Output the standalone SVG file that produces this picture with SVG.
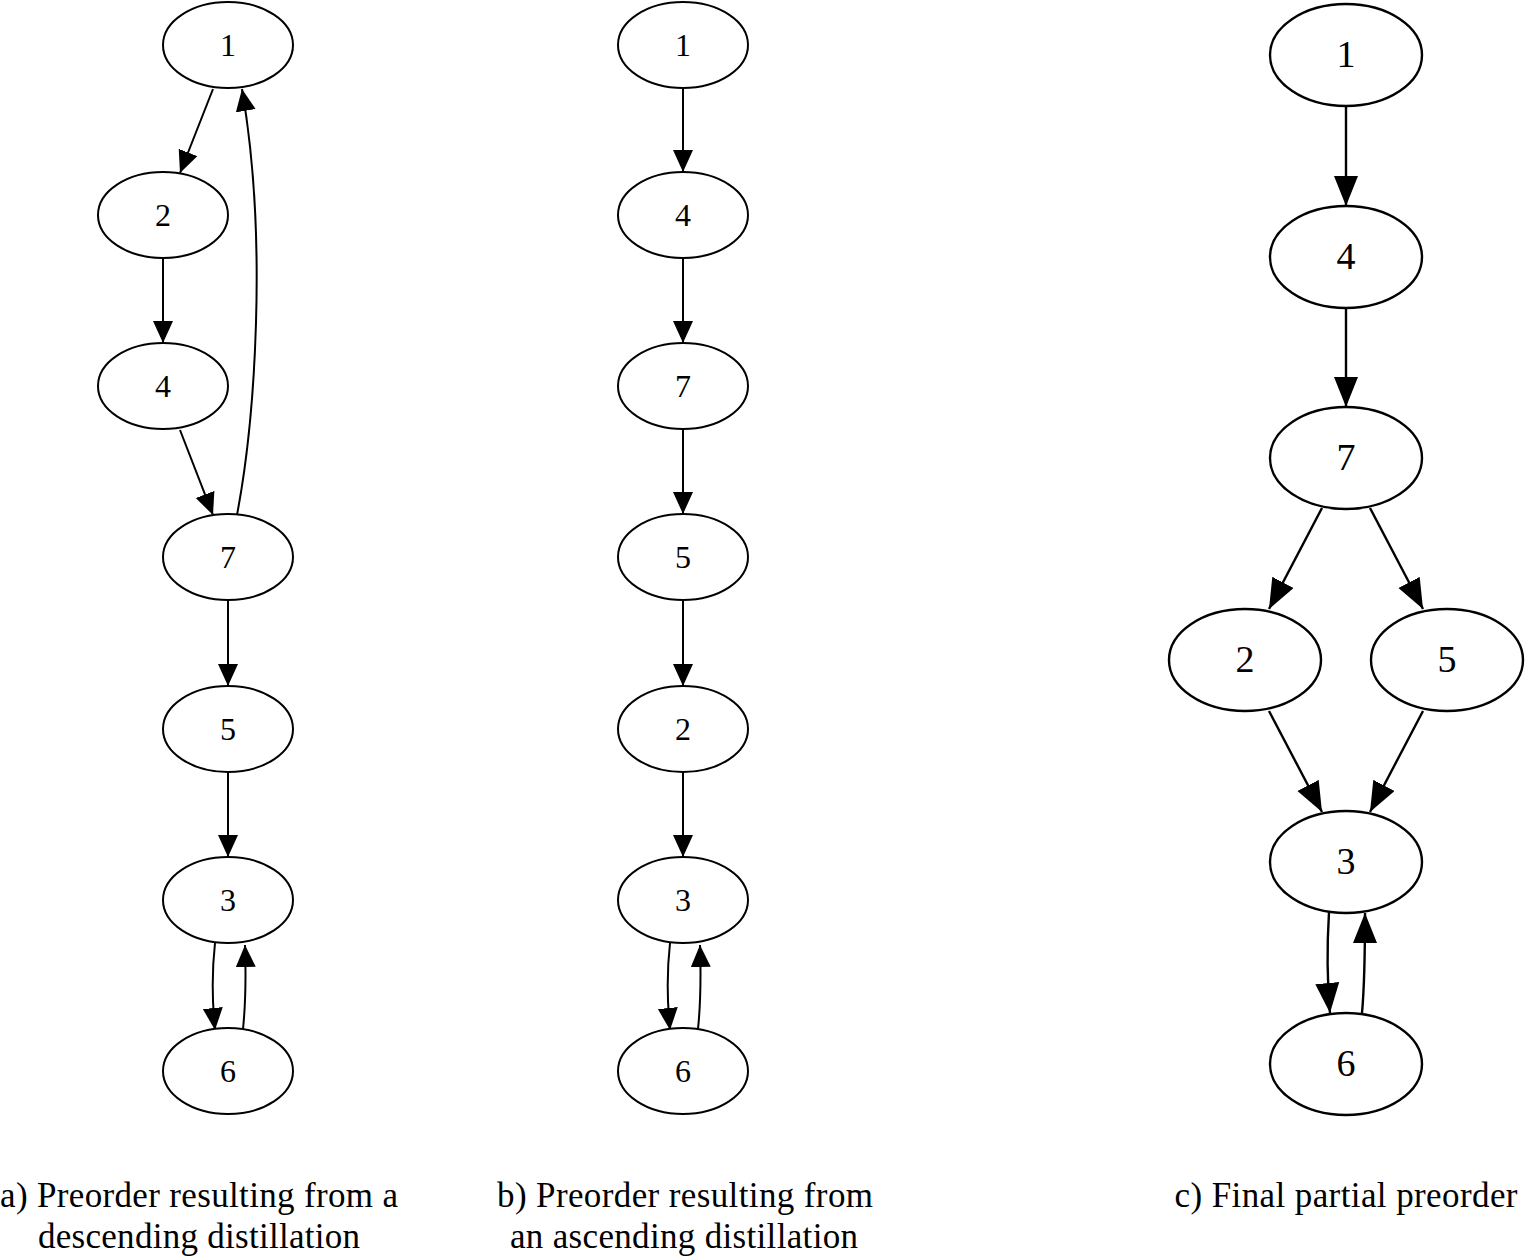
<svg xmlns="http://www.w3.org/2000/svg" width="1526" height="1257" viewBox="0 0 1526 1257">
<defs>
<style>
.n ellipse{fill:#fff;stroke:#000;stroke-width:2}
.n text{font-family:"Liberation Serif","Times New Roman",serif;font-size:32px;text-anchor:middle;fill:#000}
.c ellipse{stroke-width:2.4}
.c text{font-size:38px}
.e path{fill:none;stroke:#000;stroke-width:2}
.e path.big{stroke-width:2.4}
.cap{font-family:"Liberation Serif","Times New Roman",serif;font-size:35px;text-anchor:middle;fill:#000}
</style>
<marker id="ah" markerUnits="userSpaceOnUse" markerWidth="24" markerHeight="22" refX="22" refY="10" orient="auto" viewBox="0 0 24 22">
<path d="M0,0 L22,10 L0,20 z" fill="#000"/>
</marker>
<marker id="ahb" markerUnits="userSpaceOnUse" markerWidth="32" markerHeight="26" refX="30" refY="12" orient="auto" viewBox="0 0 32 26">
<path d="M0,0 L30,12 L0,24 z" fill="#000"/>
</marker>
</defs>
<rect width="1526" height="1257" fill="#fff"/>
<g id="connectors" class="e">
<path d="M213,89 L180,173" marker-end="url(#ah)"/>
<path d="M163,258 L163,343" marker-end="url(#ah)"/>
<path d="M180,430 L213,515" marker-end="url(#ah)"/>
<path d="M237,515 C255,420 268,240 242,89" marker-end="url(#ah)"/>
<path d="M228,600 L228,686" marker-end="url(#ah)"/>
<path d="M228,772 L228,857" marker-end="url(#ah)"/>
<path d="M215,943 C212,970 212,1000 215,1030" marker-end="url(#ah)"/>
<path d="M243,1029 C246,1000 246,975 245,945" marker-end="url(#ah)"/>
<path d="M683,88 L683,172" marker-end="url(#ah)"/>
<path d="M683,258 L683,343" marker-end="url(#ah)"/>
<path d="M683,429 L683,514" marker-end="url(#ah)"/>
<path d="M683,600 L683,686" marker-end="url(#ah)"/>
<path d="M683,772 L683,857" marker-end="url(#ah)"/>
<path d="M670,943 C667,970 667,1000 670,1030" marker-end="url(#ah)"/>
<path d="M698,1029 C701,1000 701,975 700,945" marker-end="url(#ah)"/>
<path class="big" d="M1346,106 L1346,206" marker-end="url(#ahb)"/>
<path class="big" d="M1346,308 L1346,407" marker-end="url(#ahb)"/>
<path class="big" d="M1322,508 L1269,609" marker-end="url(#ahb)"/>
<path class="big" d="M1370,508 L1423,609" marker-end="url(#ahb)"/>
<path class="big" d="M1269,711 L1322,812" marker-end="url(#ahb)"/>
<path class="big" d="M1423,711 L1370,812" marker-end="url(#ahb)"/>
<path class="big" d="M1329,912 C1327,945 1327,980 1330,1013" marker-end="url(#ahb)"/>
<path class="big" d="M1362,1013 C1365,980 1365,945 1365,913" marker-end="url(#ahb)"/>
</g>
<g id="a1" class="n"><ellipse cx="228" cy="45" rx="65" ry="43"/><text x="228" y="56">1</text></g>
<g id="a2" class="n"><ellipse cx="163" cy="215" rx="65" ry="43"/><text x="163" y="226">2</text></g>
<g id="a4" class="n"><ellipse cx="163" cy="386" rx="65" ry="43"/><text x="163" y="397">4</text></g>
<g id="a7" class="n"><ellipse cx="228" cy="557" rx="65" ry="43"/><text x="228" y="568">7</text></g>
<g id="a5" class="n"><ellipse cx="228" cy="729" rx="65" ry="43"/><text x="228" y="740">5</text></g>
<g id="a3" class="n"><ellipse cx="228" cy="900" rx="65" ry="43"/><text x="228" y="911">3</text></g>
<g id="a6" class="n"><ellipse cx="228" cy="1071" rx="65" ry="43"/><text x="228" y="1082">6</text></g>
<g id="b1" class="n"><ellipse cx="683" cy="45" rx="65" ry="43"/><text x="683" y="56">1</text></g>
<g id="b4" class="n"><ellipse cx="683" cy="215" rx="65" ry="43"/><text x="683" y="226">4</text></g>
<g id="b7" class="n"><ellipse cx="683" cy="386" rx="65" ry="43"/><text x="683" y="397">7</text></g>
<g id="b5" class="n"><ellipse cx="683" cy="557" rx="65" ry="43"/><text x="683" y="568">5</text></g>
<g id="b2" class="n"><ellipse cx="683" cy="729" rx="65" ry="43"/><text x="683" y="740">2</text></g>
<g id="b3" class="n"><ellipse cx="683" cy="900" rx="65" ry="43"/><text x="683" y="911">3</text></g>
<g id="b6" class="n"><ellipse cx="683" cy="1071" rx="65" ry="43"/><text x="683" y="1082">6</text></g>
<g id="c1" class="n c"><ellipse cx="1346" cy="55" rx="76" ry="51"/><text x="1346" y="67">1</text></g>
<g id="c4" class="n c"><ellipse cx="1346" cy="257" rx="76" ry="51"/><text x="1346" y="269">4</text></g>
<g id="c7" class="n c"><ellipse cx="1346" cy="458" rx="76" ry="51"/><text x="1346" y="470">7</text></g>
<g id="c2" class="n c"><ellipse cx="1245" cy="660" rx="76" ry="51"/><text x="1245" y="672">2</text></g>
<g id="c5" class="n c"><ellipse cx="1447" cy="660" rx="76" ry="51"/><text x="1447" y="672">5</text></g>
<g id="c3" class="n c"><ellipse cx="1346" cy="862" rx="76" ry="51"/><text x="1346" y="874">3</text></g>
<g id="c6" class="n c"><ellipse cx="1346" cy="1064" rx="76" ry="51"/><text x="1346" y="1076">6</text></g>
<g id="captions">
<text class="cap" x="199" y="1207" textLength="398">a) Preorder resulting from a</text>
<text class="cap" x="199" y="1248" textLength="322">descending distillation</text>
<text class="cap" x="685" y="1207" textLength="376">b) Preorder resulting from</text>
<text class="cap" x="684" y="1248" textLength="348">an ascending distillation</text>
<text class="cap" x="1346" y="1207" textLength="343">c) Final partial preorder</text>
</g>
</svg>
